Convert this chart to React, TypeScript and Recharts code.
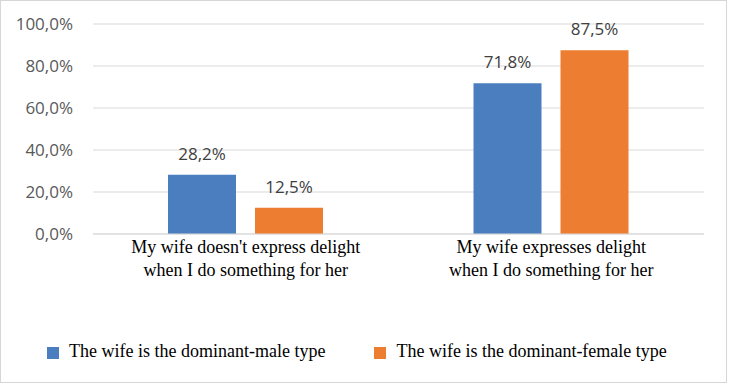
import React from 'react';
import { BarChart, Bar, XAxis, YAxis, CartesianGrid, Legend, LabelList } from 'recharts';

const categories = [
  "My wife doesn't express delight\nwhen I do something for her",
  'My wife expresses delight\nwhen I do something for her',
];
const dominantMale = [28.2, 71.8];
const dominantFemale = [12.5, 87.5];
const seriesNames = ['The wife is the dominant-male type', 'The wife is the dominant-female type'];
const seriesColors = ['#4a7ebf', '#ed7d31'];
const yTicks = [0, 20, 40, 60, 80, 100];

const data = categories.map((c, i) => ({ name: c, male: dominantMale[i], female: dominantFemale[i] }));

const fmt = (v: number) => v.toFixed(1).replace('.', ',') + '%';

const CategoryTick = (props: any) => {
  const { x, y, payload } = props;
  const lines = String(payload.value).split('\n');
  return (
    <text x={x} y={y} textAnchor="middle" fontFamily="'Liberation Serif', 'Times New Roman', serif" fontSize={18} fill="#000">
      {lines.map((l, i) => (
        <tspan key={i} x={x} dy={i === 0 ? 19 : 23}>{l}</tspan>
      ))}
    </text>
  );
};

const LegendContent = () => (
  <div style={{ display: 'flex', alignItems: 'center', fontFamily: "'Liberation Serif', 'Times New Roman', serif", fontSize: 18, lineHeight: '18px', color: '#000' }}>
    {seriesNames.map((n, i) => (
      <div key={n} style={{ display: 'flex', alignItems: 'center', marginRight: i === 0 ? 49 : 0 }}>
        <span style={{ display: 'inline-block', width: 12, height: 12, background: seriesColors[i], marginRight: 10, position: 'relative', top: 2 }} />
        <span style={{ whiteSpace: 'nowrap' }}>{n}</span>
      </div>
    ))}
  </div>
);

export default function App() {
  return (
    <div style={{ position: 'absolute', left: 0, top: 0, width: 730, height: 385, background: '#fff' }}>
      <div style={{ position: 'absolute', left: 0, top: 0, width: 727, height: 383, border: '1px solid #d6d6d6', boxSizing: 'border-box', pointerEvents: 'none', zIndex: 2 }} />
      <BarChart width={730} height={385} data={data} margin={{ top: 24, right: 26, left: 0, bottom: 0 }} barGap={19}>
        <CartesianGrid vertical={false} stroke="#d9d9d9" />
        <XAxis dataKey="name" height={151} tickLine={false} tickSize={0} tickMargin={0} axisLine={{ stroke: '#d9d9d9' }} tick={<CategoryTick />} interval={0} />
        <YAxis width={93} domain={[0, 100]} ticks={yTicks} tickFormatter={fmt} axisLine={false} tickLine={false} tickSize={0} tickMargin={20}
          tick={{ fill: '#595959', fontSize: 17, fontFamily: "'Open Sans', sans-serif" }} />
        <Legend layout="horizontal" verticalAlign="middle" align="center" content={<LegendContent />} wrapperStyle={{ top: 342, left: 47, width: 660, height: 20 }} />
        <Bar dataKey="male" name={seriesNames[0]} fill={seriesColors[0]} barSize={68} isAnimationActive={false}>
          <LabelList dataKey="male" position="top" offset={15} formatter={(v: any) => fmt(Number(v))} fill="#404040" fontSize={17} fontFamily="'Open Sans', sans-serif" />
        </Bar>
        <Bar dataKey="female" name={seriesNames[1]} fill={seriesColors[1]} barSize={68} isAnimationActive={false}>
          <LabelList dataKey="female" position="top" offset={15} formatter={(v: any) => fmt(Number(v))} fill="#404040" fontSize={17} fontFamily="'Open Sans', sans-serif" />
        </Bar>
      </BarChart>
    </div>
  );
}
